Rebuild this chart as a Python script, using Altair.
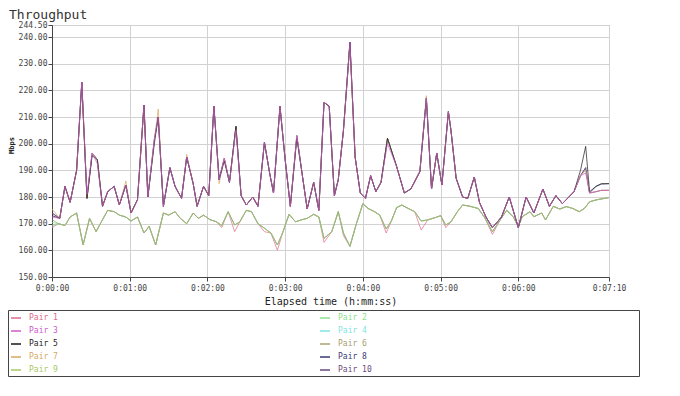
import altair as alt
import pandas as pd

# ---- data ----
pairs = ["Pair 1", "Pair 2", "Pair 3", "Pair 4", "Pair 5",
         "Pair 6", "Pair 7", "Pair 8", "Pair 9", "Pair 10"]
colors = ["#e06a8a", "#8ee08e", "#cc5acc", "#7fe5e5", "#1a1a1a",
          "#a8a070", "#d4a862", "#3a3a78", "#a8c862", "#6a4a7a"]

upper_pairs = ["Pair 8", "Pair 10", "Pair 7", "Pair 5", "Pair 3"]
lower_pairs = ["Pair 1", "Pair 4", "Pair 9", "Pair 2", "Pair 6"]

# elapsed seconds of samples (upper group)
hi_t = [0, 6, 10, 14, 19, 23, 27, 31, 35, 39, 43, 48, 52, 57, 61, 66, 71, 74, 79, 82,
        86, 91, 95, 100, 104, 109, 112, 117, 121, 125, 129, 133, 137, 142, 146, 150, 155,
        159, 164, 168, 171, 176, 180, 184, 189, 193, 197, 202, 206, 210, 214, 218, 221,
        225, 230, 234, 238, 242, 246, 250, 254, 259, 266, 272, 277, 284, 289, 293, 297,
        301, 306, 308, 312, 317, 321, 326, 330, 335, 340, 347, 353, 360, 366, 372, 379,
        384, 389, 394, 399, 403, 408, 412, 415, 420, 424, 430]
hi_v = [174, 172, 184, 178, 190, 223, 179.5, 196.5, 194, 176.5, 182, 184, 177, 184.5, 174,
        179, 214.5, 180, 201.5, 210, 176.5, 191, 184, 179.5, 195, 185, 176.5, 184, 180.5,
        214, 186.5, 194.5, 185.5, 206.5, 180.5, 177, 180, 176.5, 200.5, 189, 181.5, 214,
        194, 176.5, 203, 189, 175.5, 185.5, 175, 215.5, 214, 180.5, 186.5, 205, 238, 195,
        181.5, 179.5, 188, 182, 185.5, 202, 191.5, 181.5, 183, 189.5, 217, 183, 196.5,
        184.5, 212, 205, 187, 180, 179.5, 187.5, 178, 172.5, 168.5, 172.5, 180, 168.5,
        180, 174, 183, 176.5, 180.5, 177.5, 180, 182, 188, 191, 181.5, 182, 182.5, 182.5]

# elapsed seconds of samples (lower group)
lo_t = [0, 5, 10, 14, 19, 24, 29, 34, 39, 43, 48, 52, 57, 61, 66, 71, 75, 80, 86, 90, 95,
        99, 104, 109, 113, 117, 122, 127, 131, 136, 141, 145, 150, 154, 159, 164, 169, 174,
        178, 183, 188, 193, 197, 202, 206, 210, 216, 221, 225, 230, 235, 240, 244, 249,
        253, 258, 262, 266, 270, 275, 280, 285, 290, 296, 300, 304, 308, 313, 317, 322,
        329, 334, 340, 346, 351, 356, 360, 363, 369, 372, 378, 381, 387, 392, 397, 402,
        407, 411, 415, 420, 430]
lo_v = [169.5, 170, 169.3, 172.5, 174, 162, 172, 167, 171.5, 175, 174.5, 173.2, 172.5, 171,
        172.5, 166.5, 169, 162, 174, 173.2, 174.5, 172, 170, 174, 172, 173.2, 171.5, 170.7,
        169.3, 174.5, 169.5, 170.7, 175, 174.5, 170, 168.3, 166.5, 162, 166.5, 173.5, 170.7,
        171.5, 172, 173.5, 172.5, 164.5, 167, 174.5, 166.5, 161.5, 170, 177.5, 175.7, 174.5,
        173.2, 168, 171, 176, 177, 175.7, 174.5, 171, 171.4, 172.3, 173, 169.5, 170.7, 174.5,
        177, 176.6, 175.7, 172.3, 167, 171.4, 175, 172.6, 169, 172.6, 174.5, 172.6, 174,
        171.4, 176.5, 175.5, 176.4, 175.7, 174.5, 175.7, 178.2, 178.9, 179.8]

# per-pair readings where a pair departs from its group's common trace
pair_diffs = {
    "Pair 3": {0: 172.5, 27: 181, 35: 192.5, 142: 205, 259: 200, 412: 189},
    "Pair 5": {0: 173, 31: 195.5, 79: 200, 133: 193.5, 189: 202, 408: 190, 412: 199,
               415: 182, 420: 184, 424: 185, 430: 185},
    "Pair 7": {0: 175.5, 57: 186, 82: 213, 104: 196, 129: 185, 230: 236, 284: 190, 289: 218, 412: 190},
    "Pair 8": {420: 184, 424: 184.8, 430: 185},
    "Pair 10": {},
    "Pair 2": {0: 170.5},
    "Pair 1": {0: 168.5, 131: 168.5, 141: 167, 164: 167, 174: 160, 210: 163, 225: 165.5,
               258: 166.5, 285: 167.6, 304: 168.5, 340: 166},
    "Pair 4": {0: 169},
    "Pair 6": {0: 171.5},
    "Pair 9": {},
}

y_ticks = [150, 160, 170, 180, 190, 200, 210, 220, 230, 240, 244.5]
x_ticks = [0, 60, 120, 180, 240, 300, 360, 430]

rows = []
for p in lower_pairs:
    d = pair_diffs[p]
    for t, v in zip(lo_t, lo_v):
        rows.append({"pair": p, "t": t, "v": d.get(t, v)})
for p in upper_pairs:
    d = pair_diffs[p]
    for t, v in zip(hi_t, hi_v):
        rows.append({"pair": p, "t": t, "v": d.get(t, v)})
df = pd.DataFrame(rows)

MONO = "DejaVu Sans Mono"

chart = alt.Chart(df).mark_line(strokeWidth=1, clip=True, opacity=0.7).encode(
    x=alt.X("t:Q",
            scale=alt.Scale(domain=[0, 430], nice=False, zero=False),
            axis=alt.Axis(values=x_ticks,
                          labelExpr="'0:0' + floor(datum.value/60) + ':' + (datum.value % 60 < 10 ? '0' : '') + (datum.value % 60)",
                          title="Elapsed time (h:mm:ss)",
                          titleFont=MONO, titleFontSize=10, titleFontWeight="normal",
                          titleColor="#222", titlePadding=4,
                          labelFont=MONO, labelFontSize=8, labelColor="#444",
                          labelPadding=3, tickSize=4, labelFlush=False)),
    y=alt.Y("v:Q",
            scale=alt.Scale(domain=[150, 244.5], nice=False, zero=False),
            axis=alt.Axis(values=y_ticks, format=".2f", title="Mbps",
                          titleFont=MONO, titleFontSize=7, titleFontWeight="bold",
                          titleColor="#222", titleX=-38, titleY=120,
                          labelFont=MONO, labelFontSize=8, labelColor="#444",
                          labelPadding=1, tickSize=4, labelFlush=False)),
    color=alt.Color("pair:N",
                    scale=alt.Scale(domain=pairs, range=colors),
                    legend=alt.Legend(
                        orient="none", legendX=-44, legendY=285,
                        direction="horizontal",
                        columns=2, columnPadding=259, rowPadding=3,
                        padding=2, symbolType="stroke", symbolSize=100,
                        symbolStrokeWidth=1.5, symbolOpacity=1,
                        labelFont=MONO, labelFontSize=8,
                        labelOffset=7,
                        labelColor={"expr": "scale('color', datum.value)"},
                        title="_" * 55, titleOrient="right", titleLimit=2000,
                        titlePadding=0, titleFont=MONO, titleFontSize=8,
                        titleOpacity=0,
                        strokeColor="#444", fillColor="white")),
    detail="pair:N",
).properties(
    width=557, height=252,
    autosize=alt.AutoSizeParams(type="none"),
    padding={"left": 44, "top": 17, "right": 63, "bottom": 105},
    title=alt.TitleParams("Throughput", anchor="start", dx=-43, dy=6, offset=5, font=MONO,
                          fontSize=13, fontWeight="normal", color="#333", frame="group"),
    background="white",
).configure_view(
    stroke="#9a9a9a", strokeWidth=1
).configure_axis(
    domainColor="#444", tickColor="#444", gridColor="#d2d2d2", gridWidth=1
)

chart.save("out.html", embed_options={"renderer": "svg", "actions": False})
